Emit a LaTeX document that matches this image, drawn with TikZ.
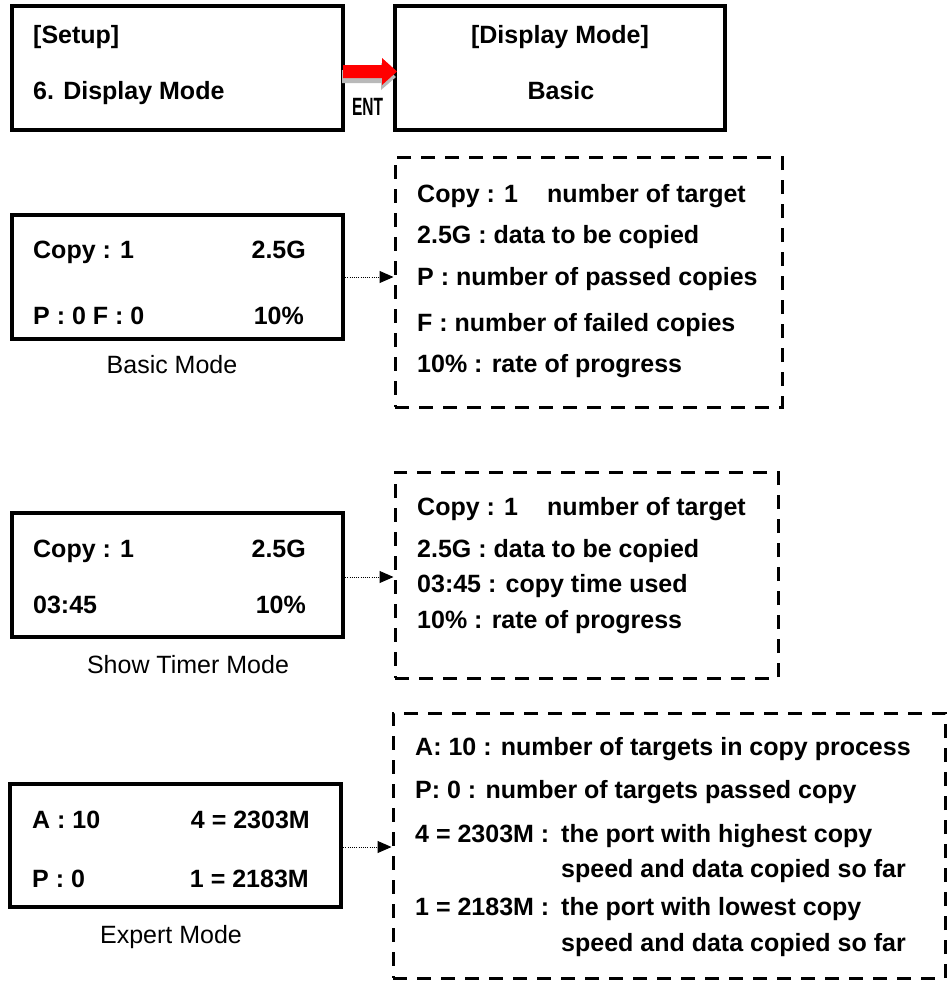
\documentclass[tikz,border=0pt]{standalone}
\usepackage{fontspec}
\setmainfont{Liberation Sans}
\usetikzlibrary{arrows.meta}
\begin{document}
\begin{tikzpicture}[x=1pt,y=-1pt,
  lcd/.style={draw, line width=3.5pt, inner sep=0pt, outer sep=0pt},
  dbox/.style={draw, line width=3pt, dash pattern=on 14pt off 10pt, inner sep=0pt, outer sep=0pt},
  bt/.style={font=\fontsize{25}{30}\selectfont\bfseries, inner sep=0pt},
  lt/.style={font=\fontsize{25}{30}\selectfont, inner sep=0pt},
  link/.style={line width=1pt, dash pattern=on 1pt off 1.2pt, shorten >=1.5pt, -{Triangle[length=14pt,width=12pt]}}]
\useasboundingbox (0,0) rectangle (947,983);

% screen boxes
\node[lcd, minimum width=331pt, minimum height=124pt] (setup) at (177.5,68) {};
\node[lcd, minimum width=330pt, minimum height=124pt] (display) at (560,68) {};
\node[lcd, minimum width=331pt, minimum height=124pt] (basic) at (177.5,277) {};
\node[lcd, minimum width=331pt, minimum height=124pt] (timer) at (177.5,575) {};
\node[lcd, minimum width=331pt, minimum height=123pt] (expert) at (175.5,845.5) {};

% dashed explanation boxes
\node[dbox, minimum width=387pt, minimum height=250pt] (d1) at (588.5,282) {};
\node[dbox, minimum width=383pt, minimum height=206pt] (d2) at (586.5,575) {};
\node[dbox, minimum width=552pt, minimum height=265pt] (d3) at (669,845.5) {};

% red 3D arrow with ENT
\fill[gray!55] (342,70) -- (381,70) -- (381,63) -- (396,77) -- (381,90) -- (381,83) -- (342,83) -- cycle;
\fill[red] (343,65) -- (382,65) -- (382,58) -- (397,71.5) -- (382,85) -- (382,78) -- (343,78) -- cycle;
\node[inner sep=0pt, anchor=base] (ent) at (367.5,115) {\fontsize{25}{30}\selectfont\bfseries\scalebox{0.62}[1]{ENT}};

% setup / display texts
\node[bt, anchor=base west] (t1) at (33,43) {[Setup]};
\node[bt, anchor=base west] (t2) at (33,99) {6. Display Mode};
\node[bt, anchor=base] (t3) at (560,43) {[Display Mode]};
\node[bt, anchor=base] (t4) at (561,99) {Basic};

% basic mode screen
\node[bt, anchor=base west] (b1) at (33,258) {Copy : 1};
\node[bt, anchor=base east] (b2) at (306,258) {2.5G};
\node[bt, anchor=base west] (b3) at (33,324) {P : 0 F : 0};
\node[bt, anchor=base east] (b4) at (304,324) {10\%};
\node[lt, anchor=base] (bl) at (172,373) {Basic Mode};

% timer mode screen
\node[bt, anchor=base west] (s1) at (33,557) {Copy : 1};
\node[bt, anchor=base east] (s2) at (306,557) {2.5G};
\node[bt, anchor=base west] (s3) at (33,613) {03:45};
\node[bt, anchor=base east] (s4) at (306,613) {10\%};
\node[lt, anchor=base] (sl) at (188,673) {Show Timer Mode};

% expert mode screen
\node[bt, anchor=base west] (e1) at (32,828) {A : 10};
\node[bt, anchor=base east] (e2) at (310,828) {4 = 2303M};
\node[bt, anchor=base west] (e3) at (32,887) {P : 0};
\node[bt, anchor=base east] (e4) at (309,887) {1 = 2183M};
\node[lt, anchor=base] (el) at (171,943) {Expert Mode};

% dashed box 1 texts
\node[bt, anchor=base west] (p1a) at (417,202) {Copy : 1};
\node[bt, anchor=base west] (p1b) at (547,202) {number of target};
\node[bt, anchor=base west] (p2) at (417,243) {2.5G : data to be copied};
\node[bt, anchor=base west] (p3) at (417,285) {P : number of passed copies};
\node[bt, anchor=base west] (p4) at (417,331) {F : number of failed copies};
\node[bt, anchor=base west] (p5) at (417,372) {10\% : rate of progress};

% dashed box 2 texts
\node[bt, anchor=base west] (q1a) at (417,515) {Copy : 1};
\node[bt, anchor=base west] (q1b) at (547,515) {number of target};
\node[bt, anchor=base west] (q2) at (417,557) {2.5G : data to be copied};
\node[bt, anchor=base west] (q3) at (417,592) {03:45 : copy time used};
\node[bt, anchor=base west] (q4) at (417,628) {10\% : rate of progress};

% dashed box 3 texts
\node[bt, anchor=base west] (r1) at (415,755) {A: 10 : number of targets in copy process};
\node[bt, anchor=base west] (r2) at (415,798) {P: 0 : number of targets passed copy};
\node[bt, anchor=base west] (r3a) at (415,842) {4 = 2303M :};
\node[bt, anchor=base west] (r3b) at (561,842) {the port with highest copy};
\node[bt, anchor=base west] (r3c) at (561,877) {speed and data copied so far};
\node[bt, anchor=base west] (r4a) at (415,915) {1 = 2183M :};
\node[bt, anchor=base west] (r4b) at (561,915) {the port with lowest copy};
\node[bt, anchor=base west] (r4c) at (561,951) {speed and data copied so far};

% connectors
\draw[link] (basic.east) -- (basic.east -| d1.west);
\draw[link] ([yshift=-2pt]timer.east) -- ([yshift=-2pt]timer.east -| d2.west);
\draw[link] ([yshift=-1.5pt]expert.east) -- ([yshift=-1.5pt]expert.east -| d3.west);
\end{tikzpicture}
\end{document}
